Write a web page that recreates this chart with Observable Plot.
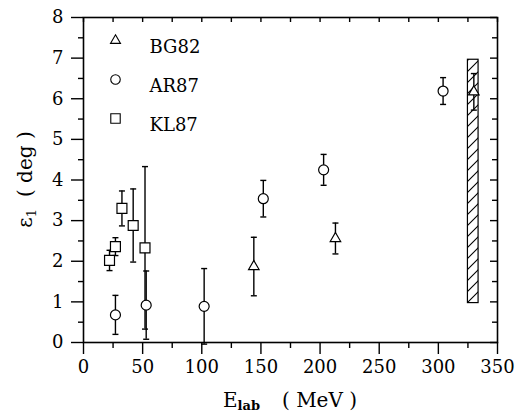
<!DOCTYPE html>
<html><head><meta charset="utf-8">
<script src="https://cdn.jsdelivr.net/npm/d3@7"></script>
<script src="https://cdn.jsdelivr.net/npm/@observablehq/plot@0.6"></script>
<style>body{margin:0;background:#fff} svg{display:block}</style>
</head><body><div id="chart"></div>
<script>
// ---- data ----
const seriesNames = ["BG82", "AR87", "KL87"];
const bgE   = [144, 213, 330];
const bgEps = [1.87, 2.56, 6.17];
const bgErr = [0.72, 0.38, 0.45];
const arE   = [27, 53, 102, 152, 203, 304];
const arEps = [0.68, 0.92, 0.89, 3.54, 4.25, 6.19];
const arErr = [0.48, 0.84, 0.93, 0.45, 0.38, 0.33];
const klE   = [22, 27, 32.5, 42, 52];
const klEps = [2.02, 2.36, 3.30, 2.88, 2.33];
const klErr = [0.25, 0.22, 0.43, 0.90, 2.00];
const bandE   = [325, 334];
const bandEps = [0.97, 6.96];
const xMajor = [0, 50, 100, 150, 200, 250, 300, 350];
const xMinor = [25, 75, 125, 175, 225, 275, 325];
const yMajor = [0, 1, 2, 3, 4, 5, 6, 7, 8];
const yMinor = [0.5, 1.5, 2.5, 3.5, 4.5, 5.5, 6.5, 7.5];
const xTitle = ["E", "lab", "( MeV )"];
const yTitle = ["ε", "1", "( deg )"];

// ---- build tables ----
const symbols = {BG82: "triangle", AR87: "circle", KL87: "square"};
const radii = {BG82: 3.9, AR87: 5, KL87: 5.6};
function rows(name, E, v, e) {
  return E.map((x, i) => ({series: name, E: x, eps: v[i], lo: v[i] - e[i], hi: v[i] + e[i]}));
}
const data = [
  ...rows("BG82", bgE, bgEps, bgErr),
  ...rows("AR87", arE, arEps, arErr),
  ...rows("KL87", klE, klEps, klErr)
];
const band = [{x1: bandE[0], x2: bandE[1], y1: bandEps[0], y2: bandEps[1]}];
const cap = {draw(ctx) { ctx.moveTo(-3, 0); ctx.lineTo(3, 0); }};
const blank = () => "";
const font = "DejaVu Serif";
const sw = 1.4;
const W = 529, H = 415, mL = 83, mR = 32, mT = 17, mB = 73;
const fw = W - mL - mR, fh = H - mT - mB;

const marks = [
  Plot.rect(band, {x1: "x1", x2: "x2", y1: "y1", y2: "y2", fill: "url(#hatch)", stroke: "black", strokeWidth: 1.2}),
  Plot.ruleX(data, {x: "E", y1: "lo", y2: "hi", stroke: "black", strokeWidth: sw}),
  Plot.dot(data, {x: "E", y: "lo", symbol: cap, stroke: "black", strokeWidth: sw}),
  Plot.dot(data, {x: "E", y: "hi", symbol: cap, stroke: "black", strokeWidth: sw}),
  ...seriesNames.map(name => Plot.dot(data.filter(d => d.series === name), {
    x: "E", y: "eps", symbol: symbols[name], r: radii[name], stroke: "black", fill: "white", strokeWidth: 1.2
  })),
  // legend
  ...seriesNames.map((name, i) => Plot.dot([name], {
    frameAnchor: "top-left", dx: 32, dy: 23 + 39 * i, symbol: symbols[name], r: radii[name] * 0.95,
    stroke: "black", fill: "none", strokeWidth: 1.1
  })),
  ...seriesNames.map((name, i) => Plot.text([name], {
    frameAnchor: "top-left", dx: 66, dy: 23 + 39 * i, text: d => d, textAnchor: "start",
    fontSize: 18, fill: "black"
  })),
  // axes
  Plot.axisX(xMajor, {anchor: "bottom", tickSize: 12, tickPadding: 6, fontSize: 18, strokeWidth: sw, label: null}),
  Plot.axisX(xMinor, {anchor: "bottom", tickSize: 6, tickFormat: blank, strokeWidth: sw, label: null}),
  Plot.axisY(yMajor, {anchor: "left", tickSize: 12, tickPadding: 8, fontSize: 18, strokeWidth: sw, label: null}),
  Plot.axisY(yMinor, {anchor: "left", tickSize: 5, tickFormat: blank, strokeWidth: sw, label: null}),
  // inward ticks on the top and right edges
  Plot.tickX([...xMajor, ...xMinor], {x: d => d, insetBottom: fh - 5, stroke: "black", strokeWidth: sw}),
  Plot.tickY(yMajor, {y: d => d, insetLeft: fw - 7, stroke: "black", strokeWidth: sw}),
  Plot.tickY(yMinor, {y: d => d, insetLeft: fw - 5, stroke: "black", strokeWidth: sw}),
  Plot.frame({stroke: "black", strokeWidth: 1.6})
];

const svg = Plot.plot({
  width: W, height: H,
  marginLeft: mL, marginRight: mR, marginTop: mT, marginBottom: mB,
  style: {fontFamily: font, fontSize: "18px", background: "white", color: "black", overflow: "visible"},
  x: {domain: [0, 350]},
  y: {domain: [0, 8]},
  marks
});

const s = d3.select(svg);
s.insert("defs", ":first-child").html(
  `<pattern id="hatch" patternUnits="userSpaceOnUse" width="11" height="11">
     <path d="M-2,2 L2,-2 M0,11 L11,0 M9,13 L13,9" stroke="black" stroke-width="1.1"/>
   </pattern>`);

const xr = svg.scale("x").range, yr = svg.scale("y").range;
const cx = (xr[0] + xr[1]) / 2, cy = (yr[0] + yr[1]) / 2;
const xt = s.append("text").attr("x", cx).attr("y", 407).attr("text-anchor", "middle")
  .attr("font-family", font).attr("font-size", 20).attr("fill", "black");
xt.append("tspan").text(xTitle[0]);
xt.append("tspan").attr("font-size", 13).attr("font-weight", "bold").attr("dy", 3).text(xTitle[1]);
xt.append("tspan").attr("dy", -3).attr("dx", 22).text(xTitle[2]);

const yt = s.append("text").attr("transform", `translate(32,${cy}) rotate(-90)`).attr("text-anchor", "middle")
  .attr("font-family", font).attr("font-size", 20).attr("fill", "black");
yt.append("tspan").text(yTitle[0]);
yt.append("tspan").attr("font-size", 13).attr("dy", 4).text(yTitle[1]);
yt.append("tspan").attr("dy", -4).attr("dx", 12).text(yTitle[2]);

document.getElementById("chart").appendChild(svg);
</script>
</body></html>
